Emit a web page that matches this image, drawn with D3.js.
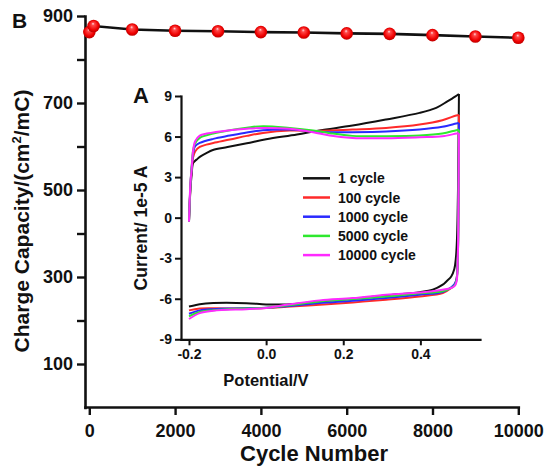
<!DOCTYPE html>
<html><head><meta charset="utf-8">
<script src="https://cdn.jsdelivr.net/npm/d3@7"></script>
<style>
body{margin:0;background:#fff}
svg text{font-family:"Liberation Sans",Arial,sans-serif;font-weight:bold;fill:#111}
</style>
</head><body>
<svg id="c" width="549" height="468"></svg>
<script>
// ---- main chart (B) data ----
const cycles = [1, 100, 1000, 2000, 3000, 4000, 5000, 6000, 7000, 8000, 9000, 10000];
const capacity = [863, 877, 869, 866, 865, 863, 862, 860, 859, 856, 853, 850];
const capTicks = [100, 200, 300, 400, 500, 600, 700, 800, 900];
const capLabelTicks = [100, 300, 500, 700, 900];
const cycleTicks = [0, 2000, 4000, 6000, 8000, 10000];

// ---- inset (A) data: [potential V, current 1e-5 A] ----
const potTicks = [-0.2, 0.0, 0.2, 0.4];
const curTicks = [-9, -6, -3, 0, 3, 6, 9];
const cvNames = ["1 cycle", "100 cycle", "1000 cycle", "5000 cycle", "10000 cycle"];

const cv1Up = [[-0.2,-0.3],[-0.196,2.2],[-0.193,3.2],[-0.189,4.05],[-0.18,4.3],[-0.172,4.5],[-0.155,4.78],[-0.138,5.0],[-0.1,5.22],[-0.05,5.5],[0.0,5.8],[0.08,6.15],[0.139,6.45],[0.224,6.81],[0.311,7.26],[0.398,7.75],[0.441,8.12],[0.47,8.6],[0.49,8.95],[0.5,9.15]];
const cv1Down = [[0.5,9.15],[0.498,3.0],[0.495,-1.5],[0.492,-3.0],[0.488,-3.8],[0.48,-4.35],[0.468,-4.7],[0.458,-4.96],[0.432,-5.33],[0.398,-5.51],[0.311,-5.75],[0.225,-6.0],[0.139,-6.2],[0.053,-6.42],[0.0,-6.42],[-0.051,-6.33],[-0.137,-6.32],[-0.172,-6.4],[-0.2,-6.57]];

const cv100Up = [[-0.2,-0.3],[-0.196,2.4],[-0.193,3.6],[-0.189,4.5],[-0.184,4.9],[-0.172,5.23],[-0.155,5.4],[-0.137,5.53],[-0.094,5.78],[-0.05,6.05],[-0.008,6.27],[0.061,6.45],[0.139,6.42],[0.224,6.52],[0.311,6.64],[0.398,6.89],[0.457,7.21],[0.493,7.56],[0.5,7.6]];
const cv100Down = [[0.5,7.6],[0.499,2.0],[0.497,-3.0],[0.494,-4.5],[0.489,-4.95],[0.48,-5.21],[0.458,-5.58],[0.398,-5.83],[0.311,-6.07],[0.225,-6.27],[0.139,-6.44],[0.053,-6.6],[0.0,-6.69],[-0.1,-6.72],[-0.172,-6.72],[-0.2,-6.86]];

const cv1000Up = [[-0.2,-0.3],[-0.196,2.5],[-0.193,3.7],[-0.189,4.8],[-0.184,5.28],[-0.172,5.53],[-0.137,5.83],[-0.094,6.07],[-0.05,6.3],[-0.008,6.47],[0.061,6.52],[0.122,6.39],[0.165,6.32],[0.224,6.32],[0.311,6.37],[0.398,6.52],[0.457,6.72],[0.493,6.96],[0.5,7.0]];
const cv1000Down = [[0.5,7.0],[0.499,2.0],[0.497,-3.0],[0.494,-4.5],[0.489,-4.9],[0.48,-5.15],[0.458,-5.5],[0.398,-5.7],[0.311,-5.95],[0.225,-6.15],[0.139,-6.32],[0.053,-6.55],[0.0,-6.66],[-0.1,-6.72],[-0.137,-6.77],[-0.172,-6.86],[-0.2,-7.11]];

const cv5000Up = [[-0.2,-0.3],[-0.196,2.6],[-0.193,3.8],[-0.189,5.05],[-0.184,5.5],[-0.172,5.9],[-0.137,6.22],[-0.094,6.47],[-0.05,6.65],[-0.008,6.77],[0.061,6.64],[0.122,6.45],[0.165,6.25],[0.224,6.05],[0.311,6.02],[0.398,6.07],[0.457,6.22],[0.493,6.47],[0.5,6.5]];
const cv5000Down = [[0.5,6.5],[0.499,2.0],[0.497,-3.0],[0.494,-4.6],[0.489,-5.0],[0.48,-5.2],[0.458,-5.45],[0.398,-5.6],[0.311,-5.83],[0.225,-6.02],[0.139,-6.2],[0.053,-6.5],[0.0,-6.66],[-0.1,-6.77],[-0.137,-6.85],[-0.172,-6.98],[-0.2,-7.3]];

const cv10000Up = [[-0.2,-0.3],[-0.196,2.7],[-0.193,3.6],[-0.19,4.8],[-0.184,5.65],[-0.172,6.07],[-0.154,6.22],[-0.094,6.47],[-0.05,6.58],[-0.008,6.64],[0.061,6.57],[0.122,6.32],[0.165,6.07],[0.224,5.9],[0.311,5.88],[0.398,5.95],[0.457,6.02],[0.493,6.22],[0.5,6.25]];
const cv10000Down = [[0.5,6.25],[0.499,2.0],[0.497,-3.0],[0.494,-4.7],[0.489,-5.05],[0.48,-5.2],[0.424,-5.46],[0.311,-5.7],[0.225,-5.95],[0.139,-6.12],[0.053,-6.45],[0.0,-6.69],[-0.051,-6.77],[-0.137,-6.89],[-0.172,-7.06],[-0.2,-7.5]];

const cvUp = [cv1Up, cv100Up, cv1000Up, cv5000Up, cv10000Up];
const cvDown = [cv1Down, cv100Down, cv1000Down, cv5000Down, cv10000Down];
const cvColors = ["#111111", "#ff2a2a", "#2a2aff", "#2ee82e", "#ff2aff"];

const svg = d3.select("#c");

// gradient for spheres
const defs = svg.append("defs");
const g = defs.append("radialGradient").attr("id","ball")
  .attr("cx","50%").attr("cy","50%").attr("r","55%").attr("fx","45%").attr("fy","30%");
g.append("stop").attr("offset","0%").attr("stop-color","#ffe0e6");
g.append("stop").attr("offset","22%").attr("stop-color","#ff4848");
g.append("stop").attr("offset","70%").attr("stop-color","#ee0000");
g.append("stop").attr("offset","100%").attr("stop-color","#b00000");

// ---- main scales ----
const x = d3.scaleLinear().domain([-100, 10000]).range([85, 518.3]);
const y = d3.scaleLinear().domain([0, 900]).range([407.5, 16]);

const yAxis = d3.axisLeft(y).tickValues(capTicks).tickSize(8).tickSizeOuter(0).tickPadding(4)
  .tickFormat(d => capLabelTicks.includes(d) ? String(d) : "");
const yg = svg.append("g").attr("transform","translate(85,0)").call(yAxis);
const xAxis = d3.axisBottom(x).tickValues(cycleTicks).tickSize(8).tickSizeOuter(0).tickPadding(9)
  .tickFormat(d => String(d));
const xg = svg.append("g").attr("transform","translate(0,407)").call(xAxis);
[yg, xg].forEach(a => {
  a.selectAll("path.domain").attr("stroke","#111").attr("stroke-width",2.6).attr("stroke-linecap","square");
  a.selectAll(".tick line").attr("stroke","#111").attr("stroke-width",2.4);
  a.selectAll(".tick text").attr("fill","#111").style("font-size","18px").style("font-family",'"Liberation Sans",Arial,sans-serif').style("font-weight","bold");
});

// axis titles
svg.append("text").attr("x",12).attr("y",28).style("font-size","21px").text("B");
svg.append("text").attr("x",314).attr("y",461).attr("text-anchor","middle").style("font-size","22px").text("Cycle Number");
const yl = svg.append("text").attr("transform","translate(29,221) rotate(-90)").attr("text-anchor","middle").style("font-size","21px");
yl.append("tspan").text("Charge Capacity/(cm");
yl.append("tspan").attr("dy",-8).style("font-size","13px").text("2");
yl.append("tspan").attr("dy",8).text("/mC)");

// main line + spheres
svg.append("path").datum(cycles.map((c,i)=>[c,capacity[i]]))
  .attr("fill","none").attr("stroke","#111").attr("stroke-width",2.6)
  .attr("d", d3.line().x(d=>x(d[0])).y(d=>y(d[1])));
svg.append("g").selectAll("circle").data(cycles.map((c,i)=>[c,capacity[i]])).join("circle")
  .attr("cx",d=>x(d[0])).attr("cy",d=>y(d[1])).attr("r",6.3).attr("fill","url(#ball)");

// ---- inset ----
const xi = d3.scaleLinear().domain([-0.2207, 0.5546]).range([181, 480]);
const yi = d3.scaleLinear().domain([-9, 9]).range([339.3, 96]);

const yiAxis = d3.axisLeft(yi).tickValues(curTicks).tickSize(6).tickSizeOuter(0).tickPadding(3).tickFormat(d=>String(d));
const yig = svg.append("g").attr("transform","translate(181,0)").call(yiAxis);
const xiAxis = d3.axisBottom(xi).tickValues(potTicks).tickSize(6).tickSizeOuter(0).tickPadding(4).tickFormat(d=>d.toFixed(1));
const xig = svg.append("g").attr("transform","translate(0,339.3)").call(xiAxis);
[yig, xig].forEach(a => {
  a.selectAll("path.domain").attr("stroke","#111").attr("stroke-width",2.2).attr("stroke-linecap","square");
  a.selectAll(".tick line").attr("stroke","#111").attr("stroke-width",2);
  a.selectAll(".tick text").attr("fill","#111").style("font-size","14px").style("font-family",'"Liberation Sans",Arial,sans-serif').style("font-weight","bold");
});

svg.append("text").attr("x",141).attr("y",103).attr("text-anchor","middle").style("font-size","22px").text("A");
svg.append("text").attr("x",266).attr("y",386).attr("text-anchor","middle").style("font-size","16.5px").text("Potential/V");
svg.append("text").attr("transform","translate(146.5,228) rotate(-90)").attr("text-anchor","middle").style("font-size","17.5px").text("Current/ 1e-5 A");

const cvLine = d3.line().x(d=>xi(d[0])).y(d=>yi(d[1])).curve(d3.curveCatmullRom.alpha(0.5));
cvUp.forEach((up,i) => {
  svg.append("path").datum(up).attr("fill","none").attr("stroke",cvColors[i]).attr("stroke-width",2).attr("stroke-linejoin","round").attr("d",cvLine);
  svg.append("path").datum(cvDown[i]).attr("fill","none").attr("stroke",cvColors[i]).attr("stroke-width",2).attr("stroke-linejoin","round").attr("d",cvLine);
});

// legend
const lg = svg.append("g");
cvNames.forEach((n,i) => {
  const yy = 178.3 + i*19.2;
  lg.append("line").attr("x1",303).attr("x2",330).attr("y1",yy).attr("y2",yy).attr("stroke",cvColors[i]).attr("stroke-width",2.5);
  lg.append("text").attr("x",338).attr("y",yy+5).style("font-size","14px").text(n);
});
</script>
</body></html>
